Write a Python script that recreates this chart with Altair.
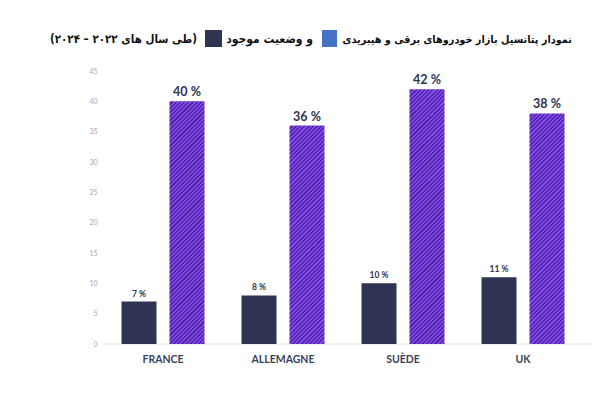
import math
import altair as alt
import pandas as pd

# ---- data ----
countries = ["FRANCE", "ALLEMAGNE", "SUÈDE", "UK"]
current = [7, 8, 10, 11]
potential = [40, 36, 42, 38]
current_labels = ["7 %", "8 %", "10 %", "11 %"]
potential_labels = ["40 %", "36 %", "42 %", "38 %"]
y_ticks = [0, 5, 10, 15, 20, 25, 30, 35, 40, 45]

title_main = "\u202bنمودار پتانسیل بازار خودروهای برقی و هیبریدی\u202c"
title_mid = "\u202bو وضعیت موجود\u202c"
title_end = "\u202b(طی سال های ۲۰۲۲ – ۲۰۲۴)\u202c"

# ---- layout / style ----
PW, PH = 480, 273
YMAX = 45
BAR_W = 35
OFF = 24
DARK_BAR = "#2e3452"
PURPLE_L = "#8446f2"
PURPLE_D = "#4f2a9f"
BLUE_SW = "#4472c4"
TEXT_C = "#2e3350"

df = pd.DataFrame({
    "country": countries,
    "current": current,
    "potential": potential,
    "cur_lab": current_labels,
    "pot_lab": potential_labels,
})


def stripes(h_px, w_px=BAR_W, period=4.2):
    """Diagonal stripe fill (bottom-left to top-right) as a linear gradient."""
    c = (w_px + h_px) / (w_px ** 2 + h_px ** 2)
    n = (w_px + h_px) / period
    stops = []
    for k in range(int(math.ceil(n))):
        a, b, e = k / n, (k + 0.5) / n, (k + 1) / n
        stops += [
            {"offset": min(a, 1.0), "color": PURPLE_L},
            {"offset": min(b, 1.0), "color": PURPLE_L},
            {"offset": min(b, 1.0), "color": PURPLE_D},
            {"offset": min(e, 1.0), "color": PURPLE_D},
        ]
    return {"gradient": "linear", "x1": 0, "y1": 0,
            "x2": c * w_px, "y2": c * h_px, "stops": stops}


x_axis = alt.Axis(labelAngle=0, ticks=False, domain=False,
                  labelFont="Lato", labelFontSize=10.5,
                  labelFontWeight="bold", labelColor="#3a3f5e",
                  labelPadding=10)
y_axis = alt.Axis(values=y_ticks, ticks=False, domain=False, grid=False,
                  labelOverlap=False, labelFont="Lato", labelFontSize=7,
                  labelColor="#a8a8a8", labelPadding=6)
x_scale = alt.Scale(paddingInner=0, paddingOuter=0)
y_scale = alt.Scale(domain=[0, YMAX], nice=False)


def X():
    return alt.X("country:N", sort=countries, title=None, scale=x_scale, axis=x_axis)


def Y(field):
    return alt.Y(field, type="quantitative", title=None, scale=y_scale, axis=y_axis)


base = alt.Chart(df)

cur_bars = base.mark_bar(width=BAR_W, xOffset=-OFF, color=DARK_BAR).encode(
    x=X(), y=Y("current"))

pot_layers = []
for c_name, v in zip(countries, potential):
    h = v / YMAX * PH
    pot_layers.append(
        base.transform_filter(alt.datum.country == c_name)
        .mark_bar(width=BAR_W, xOffset=OFF, color=stripes(h))
        .encode(x=X(), y=Y("potential"))
    )

cur_text = base.mark_text(xOffset=-OFF, dy=-8, font="Lato", fontSize=8.5,
                          fontWeight="bold", color=TEXT_C).encode(
    x=X(), y=Y("current"), text="cur_lab:N")
pot_text = base.mark_text(xOffset=OFF, dy=-9, font="Lato", fontSize=12.5,
                          fontWeight="bold", color=TEXT_C).encode(
    x=X(), y=Y("potential"), text="pot_lab:N")

one = pd.DataFrame({"k": [0]})
baseline = alt.Chart(one).mark_rule(color="#e4e4e4", strokeWidth=1).encode(
    y=alt.value(PH), x=alt.value(0), x2=alt.value(490))

tfont = dict(fontWeight="bold", color="#111111", align="right",
             baseline="alphabetic", font="DejaVu Sans Condensed")
t1 = alt.Chart(one).mark_text(text=title_main, fontSize=10.8, **tfont).encode(
    x=alt.value(469), y=alt.value(-28))
t2 = alt.Chart(one).mark_text(text=title_mid, fontSize=12, **tfont).encode(
    x=alt.value(210), y=alt.value(-28))
t3 = alt.Chart(one).mark_text(text=title_end, fontSize=11.5, **tfont).encode(
    x=alt.value(94), y=alt.value(-28))
sw_blue = alt.Chart(one).mark_rect(color=BLUE_SW).encode(
    x=alt.value(219), x2=alt.value(234), y=alt.value(-41), y2=alt.value(-24))
sw_dark = alt.Chart(one).mark_rect(color=DARK_BAR).encode(
    x=alt.value(102), x2=alt.value(119), y=alt.value(-41), y2=alt.value(-24))

chart = alt.layer(
    baseline, cur_bars, *pot_layers, cur_text, pot_text,
    t1, t2, t3, sw_blue, sw_dark,
).properties(
    width=PW, height=PH,
    padding={"left": 95, "top": 63, "right": 21, "bottom": 46},
    autosize=alt.AutoSizeParams(type="none"),
    background="white",
).configure_view(stroke=None)

chart.save("out.html", embed_options={"renderer": "svg", "actions": False})
